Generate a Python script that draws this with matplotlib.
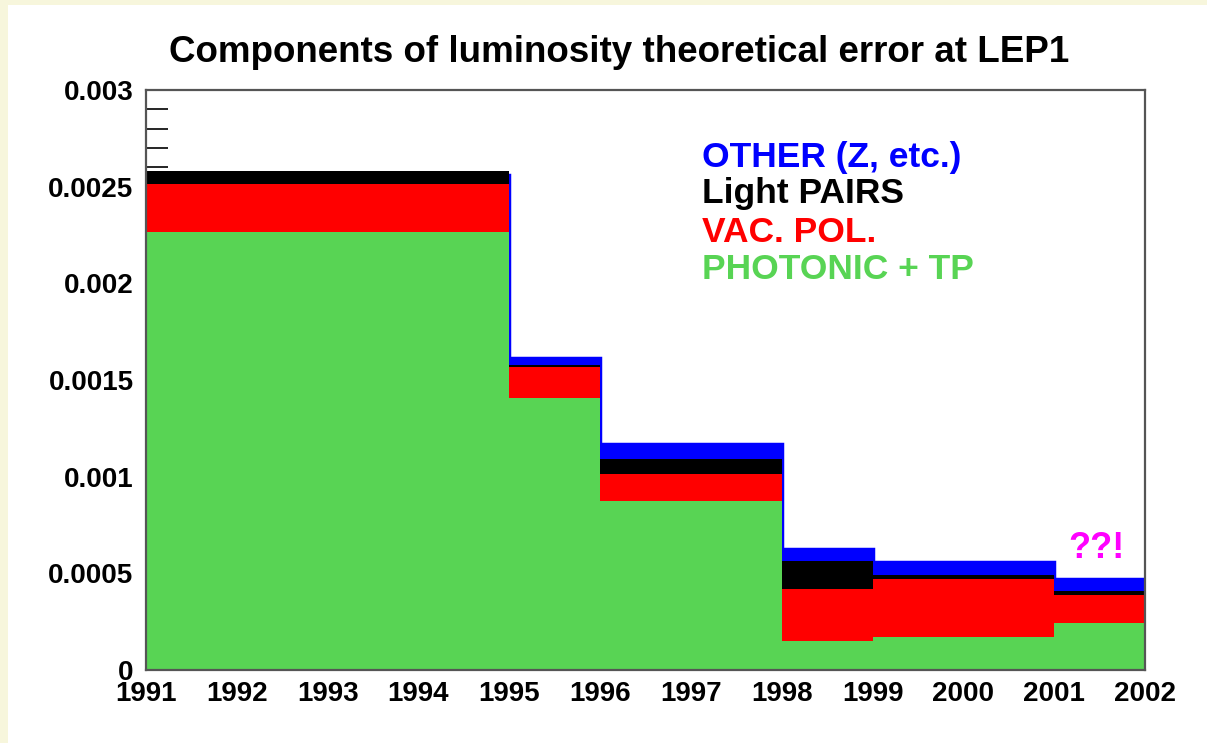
import numpy as np
import matplotlib
matplotlib.use("Agg")
import matplotlib.pyplot as plt
from matplotlib.ticker import MultipleLocator
from matplotlib.patches import Rectangle

plt.rcParams.update({"font.family": ["Liberation Sans", "DejaVu Sans"], "font.weight": "bold"})

# bin edges (years) and cumulative layer tops
edges = [1991, 1995, 1996, 1998, 1999, 2001, 2002]
other_top = [0.00256, 0.001614, 0.001167, 0.000624, 0.000557, 0.000471]
pairs_top = [0.002581, 0.00158, 0.001093, 0.000564, 0.000491, 0.000407]
vacpol_top = [0.002514, 0.001567, 0.001014, 0.000417, 0.000471, 0.000386]
photonic_top = [0.002266, 0.001407, 0.000874, 0.000152, 0.000171, 0.000245]

labels = ["OTHER (Z, etc.)", "Light PAIRS", "VAC. POL.", "PHOTONIC + TP"]
colors = ["#0000ff", "#000000", "#ff0000", "#58d454"]
years = list(range(1991, 2003))
yticks = [0, 0.0005, 0.001, 0.0015, 0.002, 0.0025, 0.003]
ytick_labels = ["0", "0.0005", "0.001", "0.0015", "0.002", "0.0025", "0.003"]

fig = plt.figure(figsize=(12.07, 7.43), dpi=100, facecolor="#f7f6dc")
# white slide panel behind the plot
fig.patches.append(Rectangle((8 / 1207, 0), 1, 1 - 5 / 743, transform=fig.transFigure,
                             facecolor="white", edgecolor="none", zorder=-10))
ax = fig.add_axes([146 / 1207, 73 / 743, 999 / 1207, 580 / 743])

layers = [other_top, pairs_top, vacpol_top, photonic_top]
for vals, c in zip(layers, colors):
    lw = 2.5 if c == "#0000ff" else 0
    ax.stairs(vals, edges, fill=True, baseline=0, facecolor=c, edgecolor=c, lw=lw, zorder=3)

ax.set_xlim(1991, 2002)
ax.set_ylim(0, 0.003)
ax.set_xticks(years)
ax.set_xticklabels([str(y) for y in years], fontsize=20, fontweight="bold")
ax.set_yticks(yticks)
ax.set_yticklabels(ytick_labels, fontsize=20, fontweight="bold")
ax.yaxis.set_minor_locator(MultipleLocator(0.0001))
ax.tick_params(axis="x", length=0, pad=8)
ax.tick_params(axis="y", which="major", direction="in", length=30, width=1.2, pad=9, right=False)
ax.tick_params(axis="y", which="minor", direction="in", length=16, width=1.2, right=False)
for s in ax.spines.values():
    s.set_color("#555555")
    s.set_linewidth(1.6)
    s.set_zorder(4)
ax.set_facecolor("white")

ys = [0.884, 0.822, 0.755, 0.690]
for lab, c, y in zip(labels, colors, ys):
    ax.text(0.5566, y, lab, color=c, transform=ax.transAxes, fontsize=25.5,
            fontweight="bold", ha="left", va="center", zorder=5)
ax.text(0.951, 0.209, "??!", color="#ff00ff", transform=ax.transAxes, fontsize=26,
        fontweight="bold", ha="center", va="center", zorder=5)

fig.text(0.513, 0.930, "Components of luminosity theoretical error at LEP1",
         fontsize=26.5, fontweight="bold", ha="center", va="center")

fig.savefig("out.png", dpi=100, facecolor=fig.get_facecolor())
